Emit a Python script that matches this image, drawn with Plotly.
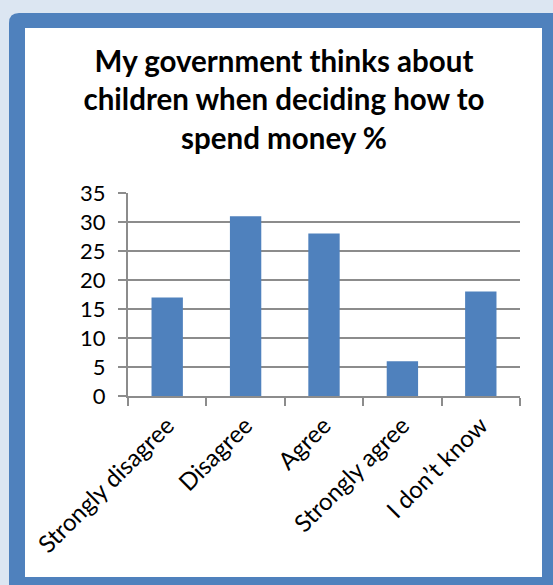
import plotly.graph_objects as go

categories = ["Strongly disagree", "Disagree", "Agree", "Strongly agree", "I don\u2019t know"]
values = [17, 31, 28, 6, 18]
y_ticks = [0, 5, 10, 15, 20, 25, 30, 35]

W, H = 553, 585
L, R, T, B = 128, 520, 193, 396  # plot area pixel box

def px(x):
    return (x - L) / (R - L)

def py(y):
    return (B - y) / (B - T)

# rounded outer border path (paper coords)
x0, y0, x1, y1, r = 9, 13, 570, 600, 10
rx = r / (R - L)
ry = r / (B - T)
outer = (f"M {px(x0)},{py(y0) - ry} "
         f"Q {px(x0)},{py(y0)} {px(x0)+rx},{py(y0)} "
         f"L {px(x1)},{py(y0)} L {px(x1)},{py(y1)} L {px(x0)},{py(y1)} Z")

fig = go.Figure(go.Bar(x=categories, y=values, marker_color="#4f81bd",
                       marker_line_width=0))

font = "Lato"
grey = "#8c8c8c"
fig.update_layout(
    width=W, height=H,
    margin=dict(l=L, r=W - R, t=T, b=H - B),
    paper_bgcolor="#dce6f2",
    plot_bgcolor="rgba(0,0,0,0)",
    bargap=0.6,
    showlegend=False,
    font=dict(family=font, color="#000000"),
    title=dict(text="My government thinks about<br>children when deciding how to<br>spend money %",
               x=284 / W, xref="container", xanchor="center",
               y=1 - 72 / H, yref="container", yanchor="top",
               font=dict(family=font, size=29.5, color="#000000", weight="bold")),
    shapes=[
        dict(type="path", xref="paper", yref="paper", path=outer,
             fillcolor="#4f81bd", line=dict(width=0), layer="below"),
        dict(type="rect", xref="paper", yref="paper",
             x0=px(25), x1=px(542), y0=py(28), y1=py(577),
             fillcolor="#ffffff", line=dict(width=0), layer="below"),
    ],
)
fig.update_yaxes(range=[0, 35], tickvals=y_ticks, showgrid=True, gridcolor=grey,
                 gridwidth=2, showline=True, linecolor=grey, linewidth=2,
                 ticks="outside", ticklen=8, tickcolor=grey, tickwidth=2,
                 ticklabelstandoff=8, zeroline=False,
                 tickfont=dict(family=font, size=22, color="#000000"))
fig.update_xaxes(showline=True, linecolor=grey, linewidth=2,
                 ticks="outside", ticklen=8, tickcolor=grey, tickwidth=2,
                 tickson="boundaries", ticklabelstandoff=4,
                 tickangle=-45, showgrid=False,
                 tickfont=dict(family=font, size=24, color="#000000"))

fig.write_html("out.html", config={"displayModeBar": False},
               post_script="document.body.style.margin='0';")
